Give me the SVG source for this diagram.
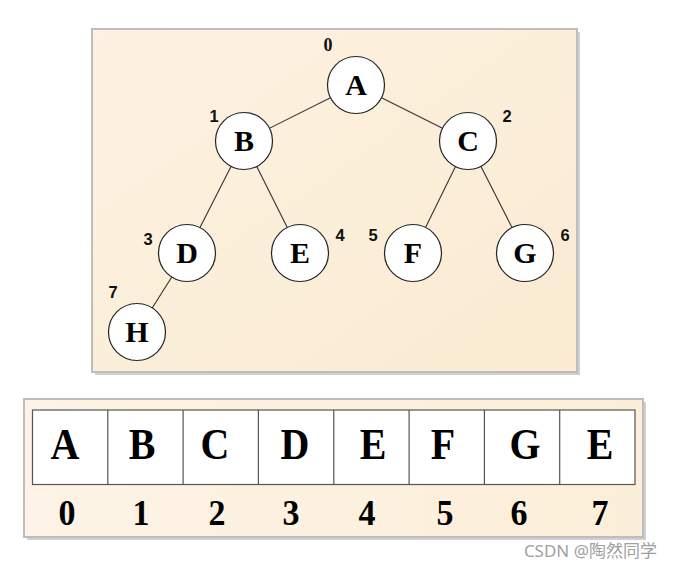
<svg xmlns="http://www.w3.org/2000/svg" width="673" height="569" viewBox="0 0 673 569">
<defs>
<linearGradient id="bg1" x1="0" y1="0" x2="1" y2="1">
<stop offset="0" stop-color="#fdf1e3"/>
<stop offset="0.5" stop-color="#fcefd9"/>
<stop offset="1" stop-color="#f9ead1"/>
</linearGradient>
<linearGradient id="bg2" x1="0" y1="0" x2="1" y2="0">
<stop offset="0" stop-color="#fdf3e6"/>
<stop offset="1" stop-color="#fcefd9"/>
</linearGradient>
<style>
.node circle{fill:#fff;stroke:#222;stroke-width:1.2}
.node text{font-family:"Liberation Serif",serif;font-weight:bold;font-size:30px;fill:#000;text-anchor:middle}
.idx{font-family:"Liberation Sans",sans-serif;font-weight:bold;font-size:16.5px;fill:#111;text-anchor:middle}
.idx0{font-family:"Liberation Serif",serif;font-weight:bold;font-size:18px;fill:#111;text-anchor:middle}
.edge{stroke:#333;stroke-width:1.1;fill:none}
.cell{fill:#fff;stroke:#555;stroke-width:1.2}
.big{font-family:"Liberation Serif",serif;font-weight:bold;font-size:40px;fill:#000;text-anchor:middle}
.num{font-family:"Liberation Serif",serif;font-weight:bold;font-size:34px;fill:#000;text-anchor:middle}
</style>
</defs>
<rect width="673" height="569" fill="#fff"/>
<!-- top panel -->
<rect x="95" y="32" width="485" height="343" fill="#8a8a8a" opacity="0.4"/>
<rect x="92" y="29" width="485" height="343" fill="url(#bg1)" stroke="#bdbdbd" stroke-width="2"/>
<g id="connectors">
<line class="edge" x1="356" y1="85" x2="244" y2="141"/>
<line class="edge" x1="356" y1="85" x2="468" y2="141"/>
<line class="edge" x1="244" y1="141" x2="187" y2="253"/>
<line class="edge" x1="244" y1="141" x2="300" y2="253"/>
<line class="edge" x1="468" y1="141" x2="413" y2="253"/>
<line class="edge" x1="468" y1="141" x2="525" y2="253"/>
<line class="edge" x1="187" y1="253" x2="137" y2="332"/>
</g>
<g id="node-A" class="node"><circle cx="356" cy="85" r="28.5"/><text x="356" y="95">A</text></g>
<g id="node-B" class="node"><circle cx="244" cy="141" r="28.5"/><text x="244" y="151">B</text></g>
<g id="node-C" class="node"><circle cx="468" cy="141" r="28.5"/><text x="468" y="151">C</text></g>
<g id="node-D" class="node"><circle cx="187" cy="253" r="28.5"/><text x="187" y="263">D</text></g>
<g id="node-E" class="node"><circle cx="300" cy="253" r="28.5"/><text x="300" y="263">E</text></g>
<g id="node-F" class="node"><circle cx="413" cy="253" r="28.5"/><text x="413" y="263">F</text></g>
<g id="node-G" class="node"><circle cx="525" cy="253" r="28.5"/><text x="525" y="263">G</text></g>
<g id="node-H" class="node"><circle cx="137" cy="332" r="28.5"/><text x="137" y="342">H</text></g>
<g id="indices">
<text class="idx0" x="328" y="51">0</text>
<text class="idx" x="214" y="122">1</text>
<text class="idx" x="507" y="122">2</text>
<text class="idx" x="148" y="245">3</text>
<text class="idx" x="340" y="241">4</text>
<text class="idx" x="373" y="241">5</text>
<text class="idx" x="565" y="241">6</text>
<text class="idx" x="113" y="298">7</text>
</g>
<!-- bottom panel -->
<g id="array">
<rect x="27" y="402" width="619" height="138" fill="#8a8a8a" opacity="0.4"/>
<rect x="24" y="399" width="619" height="138" fill="url(#bg2)" stroke="#bdbdbd" stroke-width="2"/>
<rect class="cell" x="32.5" y="410" width="602.5" height="74.5"/>
<line class="cell" x1="107.8" y1="410" x2="107.8" y2="484.5"/>
<line class="cell" x1="183.1" y1="410" x2="183.1" y2="484.5"/>
<line class="cell" x1="258.4" y1="410" x2="258.4" y2="484.5"/>
<line class="cell" x1="333.8" y1="410" x2="333.8" y2="484.5"/>
<line class="cell" x1="409.1" y1="410" x2="409.1" y2="484.5"/>
<line class="cell" x1="484.4" y1="410" x2="484.4" y2="484.5"/>
<line class="cell" x1="559.7" y1="410" x2="559.7" y2="484.5"/>
<g transform="translate(0,459) scale(1,1.12) translate(0,-459)">
<text class="big" x="65" y="459">A</text>
<text class="big" x="142" y="459">B</text>
<text class="big" x="215" y="459">C</text>
<text class="big" x="295" y="459">D</text>
<text class="big" x="373" y="459">E</text>
<text class="big" x="443" y="459">F</text>
<text class="big" x="525" y="459">G</text>
<text class="big" x="600" y="459">E</text>
</g>
<g transform="translate(0,525) scale(1,1.05) translate(0,-525)">
<text class="num" x="67" y="525">0</text>
<text class="num" x="141" y="525">1</text>
<text class="num" x="217" y="525">2</text>
<text class="num" x="291" y="525">3</text>
<text class="num" x="367" y="525">4</text>
<text class="num" x="445" y="525">5</text>
<text class="num" x="519" y="525">6</text>
<text class="num" x="600" y="525">7</text>
</g>
</g>
<text x="657" y="557" text-anchor="end" font-family="'Noto Sans','Noto Sans CJK SC',sans-serif" font-size="17" fill="#a0a0a0">CSDN @陶然同学</text>
</svg>
